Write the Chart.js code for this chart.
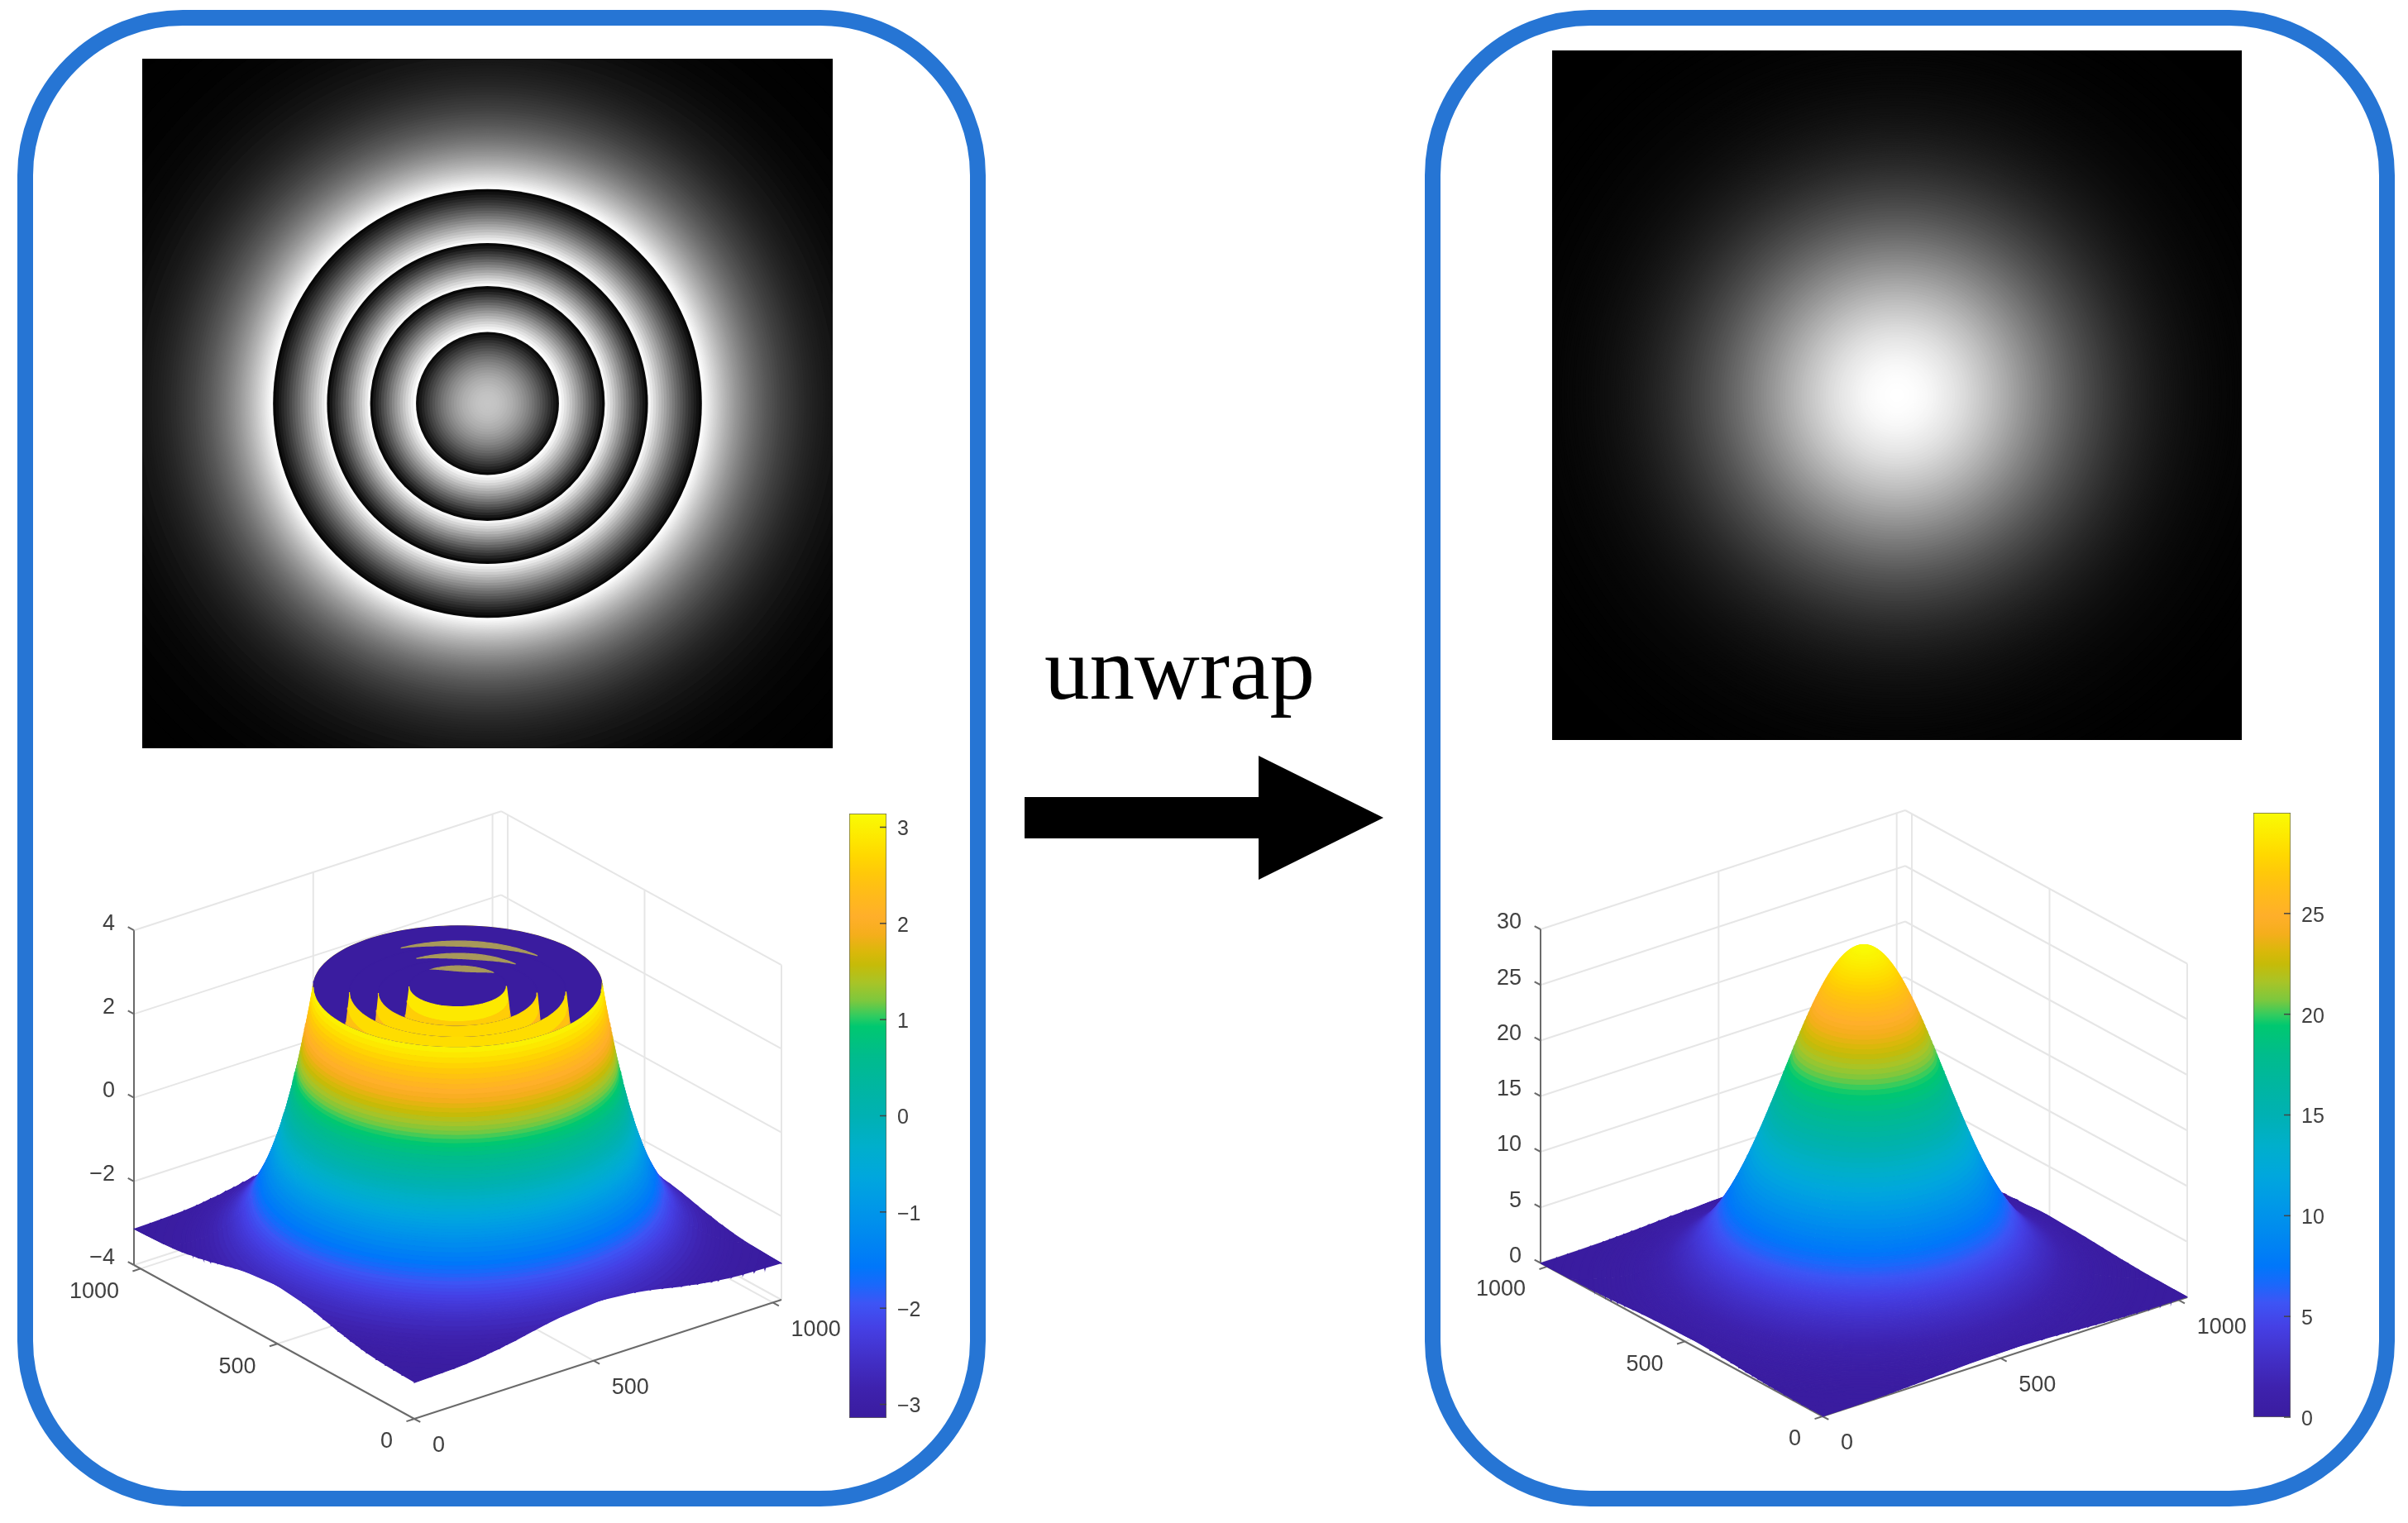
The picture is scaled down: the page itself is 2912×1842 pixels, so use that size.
<!DOCTYPE html>
<html>
<head>
<meta charset="utf-8">
<title>unwrap</title>
<script src="https://cdn.jsdelivr.net/npm/chart.js@4/dist/chart.umd.min.js"></script>
<style>
  html, body { margin: 0; padding: 0; background: #fff; }
  #page { position: relative; width: 2912px; height: 1842px; overflow: hidden; background: #fff; }
  #page canvas { position: absolute; display: block; }
  .frame { position: absolute; box-sizing: border-box; border: 19px solid #2675d4; border-radius: 200px; height: 1810px; top: 12px; }
  #unwrapLabel { position: absolute; left: 1263px; top: 746px; font: 109px "Liberation Serif", serif; line-height: 125px; color: #000; }
  #arrow { position: absolute; left: 1239px; top: 914px; }
</style>
</head>
<body>
<div id="page">
  <div class="frame" style="left:21px;width:1171px"></div>
  <div class="frame" style="left:1723px;width:1173px"></div>
  <canvas id="wrappedImage" width="835" height="834" style="left:172px;top:71px;background:#000"></canvas>
  <canvas id="unwrappedImage" width="834" height="834" style="left:1877px;top:61px;background:#000"></canvas>
  <canvas id="wrappedSurface" width="960" height="820" style="left:60px;top:960px"></canvas>
  <canvas id="unwrappedSurface" width="960" height="820" style="left:1760px;top:960px"></canvas>
  <canvas id="wrappedBar" width="130" height="772" style="left:1020px;top:964px"></canvas>
  <canvas id="unwrappedBar" width="130" height="772" style="left:2718px;top:963px"></canvas>
  <div id="unwrapLabel">unwrap</div>
  <svg id="arrow" width="434" height="150"><polygon points="0,50 283,50 283,0 434,75 283,150 283,100 0,100" fill="#000"/></svg>
</div>
<script>
// radial profile (radius in grid units, phase in rad)
const ringRadius = [0,4,8,12,16,20,24,28,32,36,40,44,48,52,56,60,64,68,72,76,80,84,88,92,96,100,
  104,108,112,116,120,124,128,132,136,140,144,148,152,156,160,164,168,172,176,180,184,188,192,196,
  200,204,208,212,216,220,224,228,232,236,240,244,248,252,256,260,264,268,272,276,280,284,288,292,
  296,300,304,308,312,316,320,
  322,324,326,328,330,332,334,336,338,340,342,344,346,348,350,352,354,356,358,360,
  362,364,366,368,370,372,374,376,378,380,382,384,386,388,390,392,394,396,398,400,
  402,404,406,408,410,412,414,416,418,420,
  424,428,432,436,440,444,448,452,456,460,464,468,472,476,480,484,488,492,496,500,504,508,512,
  522,532,542,552,562,572,582,592,602,612,632,652,672,692,724];
const unwrappedPhase = [30.00,29.99,29.97,29.93,29.88,29.82,29.74,29.64,29.53,29.41,29.27,29.12,28.96,28.78,28.59,28.38,
  28.17,27.94,27.70,27.45,27.19,26.91,26.63,26.34,26.03,25.72,25.40,25.07,24.73,24.39,24.04,23.68,
  23.32,22.95,22.57,22.19,21.81,21.42,21.03,20.64,20.24,19.84,19.44,19.03,18.63,18.22,17.82,17.41,
  17.01,16.61,16.21,15.82,15.42,15.02,14.63,14.25,13.86,13.48,13.11,12.73,12.37,12.00,11.65,11.29,
  10.95,10.60,10.27,9.94,9.61,9.29,8.98,8.67,8.37,8.08,7.79,7.51,7.24,6.97,6.71,6.46,6.21,
  6.09,5.97,5.85,5.73,5.61,5.50,5.39,5.28,5.17,5.07,4.96,4.86,4.76,4.66,4.56,4.46,4.36,4.27,4.18,4.09,
  4.00,3.91,3.82,3.73,3.65,3.57,3.49,3.41,3.33,3.25,3.17,3.10,3.03,2.96,2.89,2.82,2.75,2.69,2.62,2.56,
  2.50,2.44,2.38,2.32,2.26,2.20,2.14,2.09,2.04,1.99,
  1.89,1.79,1.70,1.61,1.53,1.45,1.37,1.30,1.23,1.16,1.09,1.03,0.97,0.92,0.87,0.82,0.77,0.72,0.68,0.64,0.60,0.57,0.53,
  0.45,0.39,0.33,0.28,0.23,0.20,0.16,0.14,0.11,0.09,0.06,0.04,0.03,0.02,0.01];

const gridTicks = [0, 500, 1000];
const wrappedZTicks = [-4, -2, 0, 2, 4];
const unwrappedZTicks = [0, 5, 10, 15, 20, 25, 30];
const wrappedBarTicks = [-3, -2, -1, 0, 1, 2, 3];
const unwrappedBarTicks = [0, 5, 10, 15, 20, 25];
// gold streaks on the far rims of the wrapped surface
const rimGlintRadii = [238, 173, 107];

// colour bar stops as seen in the picture: [position, colour]
const colorStops = [
  [0, '#3a1c9f'], [0.05, '#3e22ae'], [0.1, '#4230c8'], [0.15, '#4540e5'], [0.19, '#3d55f5'],
  [0.22, '#1a68fb'], [0.25, '#0077fa'], [0.3, '#0088f0'], [0.35, '#0098e8'], [0.4, '#00a7dd'],
  [0.45, '#00afcb'], [0.5, '#00b1b3'], [0.55, '#00b6a0'], [0.6, '#00bc8c'], [0.648, '#00c870'],
  [0.665, '#30cc60'], [0.69, '#7cc83e'], [0.72, '#a8c427'], [0.75, '#c6bb08'], [0.77, '#d9b80a'],
  [0.8, '#f5ae1c'], [0.83, '#ffaf2a'], [0.87, '#ffbc18'], [0.9, '#ffc80a'], [0.93, '#ffd800'],
  [0.96, '#fde800'], [1, '#f9fb05']
];

const PI = Math.PI;
const GRID_SIZE = 1024;
const CENTER = GRID_SIZE / 2;

function wrapPhase(z) {
  return z - 2 * PI * Math.floor(z / (2 * PI)) - PI;
}
const wrappedPhase = unwrappedPhase.map(wrapPhase);

function hexToRgb(hex) {
  return [1, 3, 5].map(i => parseInt(hex.substr(i, 2), 16));
}

function colorAt(t) {
  t = Math.min(1, Math.max(0, t));
  let i = 0;
  while (i < colorStops.length - 2 && colorStops[i + 1][0] < t) i++;
  const a = colorStops[i], b = colorStops[i + 1];
  const f = (t - a[0]) / (b[0] - a[0]);
  const ca = hexToRgb(a[1]), cb = hexToRgb(b[1]);
  const c = ca.map((v, k) => Math.round(v + (cb[k] - v) * f));
  return 'rgb(' + c.join(',') + ')';
}

function grayOf(v) {
  const g = Math.round(255 * Math.min(1, Math.max(0, v)));
  return 'rgb(' + g + ',' + g + ',' + g + ')';
}

// Flat images: one filled disc per profile sample, largest first.
// A disc reaches halfway to the next sample.
function drawImage(id, grayValues) {
  const discs = ringRadius.map((r, i) => ({
    x: CENTER,
    y: CENTER,
    r: i < ringRadius.length - 1 ? (r + ringRadius[i + 1]) / 2 : r,
    gray: grayOf(grayValues[i])
  })).reverse();
  new Chart(document.getElementById(id), {
    type: 'scatter',
    data: {
      datasets: [{
        data: discs,
        pointStyle: 'circle',
        pointBorderWidth: 0,
        pointBackgroundColor: c => c.raw ? c.raw.gray : '#000',
        pointRadius: c => {
          const s = c.chart.scales.x;
          return c.raw ? s.getPixelForValue(c.raw.r) - s.getPixelForValue(0) : 0;
        }
      }]
    },
    options: {
      responsive: false,
      animation: false,
      events: [],
      devicePixelRatio: 1,
      layout: { autoPadding: false },
      plugins: { legend: { display: false }, tooltip: { enabled: false } },
      scales: {
        x: { type: 'linear', min: 0, max: GRID_SIZE, display: false },
        y: { type: 'linear', min: 0, max: GRID_SIZE, display: false }
      }
    }
  });
}

// fills the polygon of datasets flagged closed, using the points the scales placed
const closedShapes = {
  id: 'closedShapes',
  beforeDatasetDraw(chart, args) {
    const ds = chart.data.datasets[args.index];
    if (!ds.closed) return;
    const ctx = chart.ctx;
    ctx.save();
    ctx.beginPath();
    args.meta.data.forEach((p, i) => {
      if (i === 0) ctx.moveTo(p.x, p.y); else ctx.lineTo(p.x, p.y);
    });
    ctx.closePath();
    ctx.fillStyle = ds.backgroundColor;
    ctx.fill();
    ctx.restore();
  }
};

// 3D axes drawn on a flat chart whose scales are in page pixels
function drawSurface(id, cfg) {
  const view = cfg.view;
  const zMin = cfg.zTicks[0];
  const zMax = cfg.zTicks[cfg.zTicks.length - 1];
  const E = GRID_SIZE;

  function project(x, y, z) {
    return {
      x: view.ox + (x * view.xdx + y * view.ydx) / E,
      y: view.oy + (x * view.xdy + y * view.ydy) / E - (z - zMin) * view.zUnit
    };
  }

  const shapes = [];
  function seg(a, b, color, width) {
    shapes.push({
      data: [project(a[0], a[1], a[2]), project(b[0], b[1], b[2])],
      borderColor: color, borderWidth: width, pointRadius: 0, fill: false
    });
  }

  // back walls and floor
  const gridColor = '#e6e6e6';
  cfg.zTicks.forEach(z => {
    seg([0, E, z], [E, E, z], gridColor, 2);
    seg([E, E, z], [E, 0, z], gridColor, 2);
  });
  gridTicks.slice(1).forEach(t => {
    seg([t, E, zMin], [t, E, zMax], gridColor, 2);
    seg([E, t, zMin], [E, t, zMax], gridColor, 2);
    seg([t, 0, zMin], [t, E, zMin], gridColor, 2);
    seg([0, t, zMin], [E, t, zMin], gridColor, 2);
  });
  seg([E, 0, zMin], [E, 0, zMax], gridColor, 2);

  // axes and tick marks
  const axisColor = '#6a6a6a';
  seg([0, 0, zMin], [E, 0, zMin], axisColor, 2);
  seg([0, 0, zMin], [0, E, zMin], axisColor, 2);
  seg([0, E, zMin], [0, E, zMax], axisColor, 2);
  cfg.zTicks.forEach(z => seg([0, E, z], [0, E + 22, z], axisColor, 2));
  gridTicks.forEach(t => {
    seg([t, 0, zMin], [t, -22, zMin], axisColor, 2);
    seg([0, t, zMin], [-22, t, zMin], axisColor, 2);
  });

  // the surface: strips between neighbouring profile samples, painted back to front
  const heights = cfg.heights;
  const farAngle = Math.atan2(view.xdx, -view.ydx);
  const farRange = [farAngle - PI / 2, farAngle + PI / 2];
  const nearRange = [farAngle + PI / 2, farAngle + 3 * PI / 2];
  const ARC_STEPS = 64;

  function arc(r, span, zAt) {
    const pts = [];
    for (let k = 0; k <= ARC_STEPS; k++) {
      const a = span[0] + (span[1] - span[0]) * k / ARC_STEPS;
      pts.push(project(CENTER + r * Math.cos(a), CENTER + r * Math.sin(a), zAt(k)));
    }
    return pts;
  }

  function addPolygon(points, color) {
    shapes.push({
      data: points,
      closed: true,
      backgroundColor: color,
      borderColor: color,
      borderWidth: 1.2,
      pointRadius: 0,
      fill: false
    });
  }

  function addStrip(i, spanIn, spanOut, far) {
    const zIn = heights[i], zOut = heights[i + 1];
    const isWall = Math.abs(zOut - zIn) > 3;
    // far side inside the outer wall only the walls can be seen
    const hidden = far && ringRadius[i + 1] <= cfg.wallRadius;
    const value = (isWall || hidden) ? cfg.barMin : (zIn + zOut) / 2;
    const color = colorAt((value - cfg.barMin) / (cfg.barMax - cfg.barMin));
    const outer = arc(ringRadius[i + 1], spanOut, () => zOut);
    const inner = arc(ringRadius[i], spanIn, () => zIn);
    addPolygon(outer.concat(inner.reverse()), color);
  }

  // a ring beyond the grid edge only exists in the four corners;
  // where the split line cuts it away the strip closes at the grid edge
  function cornerSpan(r, c, range) {
    const half = PI / 4 - (r > CENTER ? Math.acos(CENTER / r) : 0);
    if (half <= 0) return null;
    const lo = Math.max(c - half, range[0]), hi = Math.min(c + half, range[1]);
    return hi > lo ? [lo, hi] : [c + half, c + half];
  }

  function addRing(i, far) {
    const rOut = ringRadius[i + 1], rIn = ringRadius[i];
    const range = far ? farRange : nearRange;
    if (rOut <= CENTER) {
      addStrip(i, range, range, far);
      return;
    }
    const corners = far ? [-PI / 4, PI / 4, 3 * PI / 4] : [3 * PI / 4, 5 * PI / 4, 7 * PI / 4];
    corners.forEach(c => {
      const sIn = cornerSpan(rIn, c, range), sOut = cornerSpan(rOut, c, range);
      if (sIn && sOut) addStrip(i, sIn, sOut, far);
    });
  }

  for (let i = ringRadius.length - 2; i >= 0; i--) addRing(i, true);

  cfg.glints.forEach(r => {
    const span = [farAngle - 48 * PI / 180, farAngle + 32 * PI / 180];
    const top = arc(r, span, () => 3.08);
    const bottom = arc(r, span, k => 3.08 - 0.13 * Math.sin(PI * k / ARC_STEPS));
    addPolygon(top.concat(bottom.reverse()), '#a8995a');
  });

  for (let i = 0; i < ringRadius.length - 1; i++) addRing(i, false);

  // tick labels
  const labels = [];
  const fmt = v => String(v).replace('-', '\u2212');
  cfg.zTicks.forEach(z => {
    const p = project(0, E, z);
    labels.push({ text: fmt(z), x: p.x - 23, y: p.y - 8, align: 'right' });
  });
  gridTicks.forEach(t => {
    const py = project(0, t, zMin);
    labels.push({ text: String(t), x: py.x - 26, y: py.y + 28, align: 'right' });
    const px = project(t, 0, zMin);
    labels.push({ text: String(t), x: px.x + 22, y: px.y + 33, align: 'left' });
  });

  const tickText = {
    id: 'tickText',
    afterDatasetsDraw(chart) {
      const ctx = chart.ctx;
      ctx.save();
      ctx.font = '27px "Liberation Sans", Arial, sans-serif';
      ctx.fillStyle = '#404040';
      ctx.textBaseline = 'middle';
      labels.forEach(l => {
        ctx.textAlign = l.align;
        ctx.fillText(l.text, chart.scales.x.getPixelForValue(l.x), chart.scales.y.getPixelForValue(l.y));
      });
      ctx.restore();
    }
  };

  const canvas = document.getElementById(id);
  const left = parseInt(canvas.style.left), top = parseInt(canvas.style.top);
  new Chart(canvas, {
    type: 'line',
    // Chart.js paints the first dataset last
    data: { datasets: shapes.reverse() },
    options: {
      responsive: false,
      animation: false,
      events: [],
      devicePixelRatio: 1,
      parsing: false,
      normalized: false,
      layout: { autoPadding: false },
      plugins: { legend: { display: false }, tooltip: { enabled: false } },
      scales: {
        x: { type: 'linear', min: left, max: left + canvas.width, display: false },
        y: { type: 'linear', min: top, max: top + canvas.height, reverse: true, display: false }
      }
    },
    plugins: [closedShapes, tickText]
  });
}

function drawColorBar(id, min, max, ticks) {
  const barTickMarks = {
    id: 'barTickMarks',
    afterDraw(chart) {
      const ctx = chart.ctx, area = chart.chartArea, y = chart.scales.y;
      ctx.save();
      ctx.strokeStyle = '#444';
      ctx.lineWidth = 1.5;
      ticks.forEach(v => {
        const py = y.getPixelForValue(v);
        ctx.beginPath();
        ctx.moveTo(area.right, py);
        ctx.lineTo(area.right - 8, py);
        ctx.stroke();
      });
      ctx.restore();
    }
  };
  new Chart(document.getElementById(id), {
    type: 'bar',
    data: {
      labels: ['phase'],
      datasets: [{
        data: [[min, max]],
        barPercentage: 1,
        categoryPercentage: 1,
        borderWidth: 1,
        borderColor: '#66665a',
        borderSkipped: false,
        backgroundColor: c => {
          const area = c.chart.chartArea;
          if (!area) return '#888';
          const g = c.chart.ctx.createLinearGradient(0, area.bottom, 0, area.top);
          colorStops.forEach(s => g.addColorStop(s[0], s[1]));
          return g;
        }
      }]
    },
    options: {
      responsive: false,
      animation: false,
      events: [],
      devicePixelRatio: 1,
      layout: { autoPadding: false, padding: { left: 7, top: 20, bottom: 21 } },
      plugins: { legend: { display: false }, tooltip: { enabled: false } },
      scales: {
        x: { display: false },
        y: {
          position: 'right',
          min: min,
          max: max,
          afterFit: s => { s.width = 78; s.paddingTop = 0; s.paddingBottom = 0; },
          afterBuildTicks: s => { s.ticks = ticks.map(v => ({ value: v })); },
          grid: { display: false },
          border: { display: false },
          ticks: {
            padding: 5,
            labelOffset: 3,
            color: '#404040',
            font: { family: '"Liberation Sans", Arial, sans-serif', size: 25 },
            callback: v => String(v).replace('-', '\u2212')
          }
        }
      }
    },
    plugins: [barTickMarks]
  });
}

drawImage('wrappedImage', wrappedPhase.map(z => (z + PI) / (2 * PI)));
drawImage('unwrappedImage', unwrappedPhase.map(z => z / 30));

drawSurface('wrappedSurface', {
  view: { ox: 501, oy: 1716, xdx: 444, xdy: -144, ydx: -339, ydy: -186, zUnit: 50.6 },
  zTicks: wrappedZTicks,
  heights: wrappedPhase,
  barMin: -PI,
  barMax: PI,
  wallRadius: 320,
  glints: rimGlintRadii
});
drawSurface('unwrappedSurface', {
  view: { ox: 2204, oy: 1713, xdx: 441, xdy: -144, ydx: -341, ydy: -185.5, zUnit: 13.45 },
  zTicks: unwrappedZTicks,
  heights: unwrappedPhase,
  barMin: 0,
  barMax: 30,
  wallRadius: 0,
  glints: []
});

drawColorBar('wrappedBar', -PI, PI, wrappedBarTicks);
drawColorBar('unwrappedBar', 0, 30, unwrappedBarTicks);
</script>
</body>
</html>
